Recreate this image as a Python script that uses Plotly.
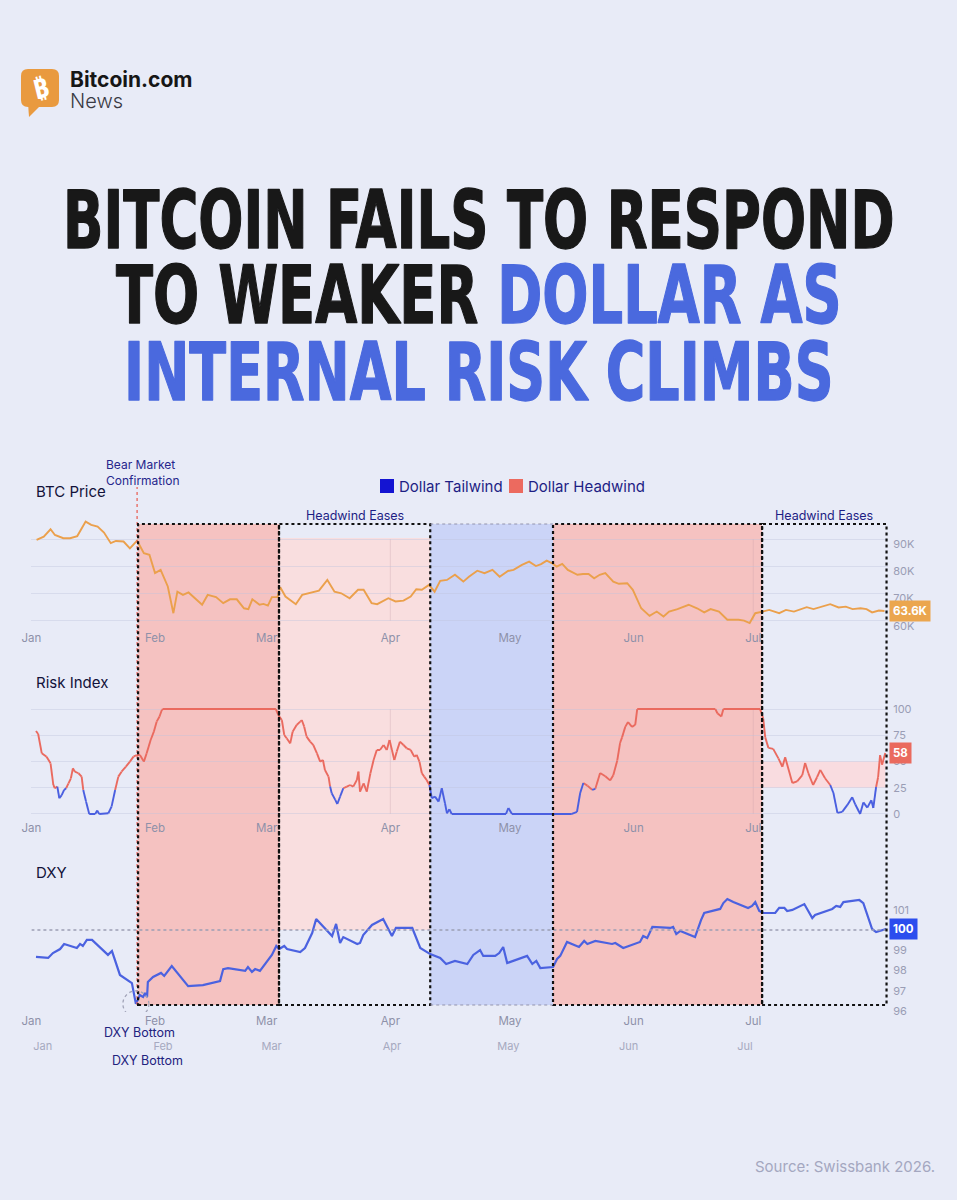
import json

import pandas as pd
import plotly.graph_objects as go

W, H = 957, 1200
BG = "#E8EBF7"
NAVY = "#1E1E84"
FONT = "Inter, Noto Sans, sans-serif"

MONTHS = ["2026-01-01", "2026-02-01", "2026-03-01", "2026-04-01",
          "2026-05-01", "2026-06-01", "2026-07-01"]
MONTH_LABELS = ["Jan", "Feb", "Mar", "Apr", "May", "Jun", "Jul"]

# days after 2026-01-01
BTC_DAY = [1.3, 3.1, 4.8, 5.9, 8.0, 9.7, 11.5, 13.6, 15.0, 16.6, 18.2, 19.9, 21.2, 23.1, 24.7, 26.5, 28.2, 29.6,
           31.0, 32.4, 34.2, 35.6, 36.6, 38.0, 39.4, 41.4, 42.8, 44.2, 46.3, 48.1, 49.8, 51.5, 53.3, 54.4, 55.4, 57.2, 58.2,
           59.3, 60.3, 61.7, 62.4, 63.7, 66.3, 67.9, 70.0, 72.1, 74.2, 76.0, 77.7, 79.8, 81.9, 83.3, 85.3, 86.7, 89.5,
           91.3, 93.3, 95.1, 96.5, 97.9, 99.7, 101.1, 102.5, 104.2, 106.2, 108.3, 109.7, 111.8, 113.6, 115.6, 117.4, 119.5,
           120.9, 123.0, 124.8, 126.5, 127.8, 129.2, 130.6, 131.7, 133.1, 134.5, 136.9, 138.3, 139.7, 141.1, 142.5, 143.9,
           145.9, 147.3, 149.4, 150.8,
           152.9, 155.0, 156.8, 158.5, 159.9, 162.0, 164.8, 166.9, 168.7, 170.3, 172.4, 174.5, 177.3, 178.7, 180.1,
           181.5, 183.3, 185.0, 187.5, 189.2, 191.2, 192.6, 194.4, 196.1, 198.2, 200.3, 202.4, 204.2, 205.9, 207.9, 209.4,
           210.8, 212.5, 213.9]
# thousands of USD
BTC_PRICE = [89.7, 90.9, 93.6, 91.5, 90.3, 90.3, 91.1, 96.4, 95.2, 94.6, 92.4, 88.5, 89.3, 89.1, 86.6, 89.4, 84.8, 84.2,
             77.5, 78.7, 72.6, 62.8, 70.7, 69.5, 70.4, 67.9, 65.9, 69.5, 68.7, 66.5, 67.9, 67.9, 64.6, 64.3, 67.9, 65.9, 66.2,
             65.6, 68.7, 68.7, 72.3, 68.9, 66.1, 69.5, 70.4, 71.1, 75.0, 70.7, 70.1, 68.3, 71.4, 71.4, 66.5, 66.1, 68.3,
             67.1, 67.4, 68.9, 71.6, 71.4, 73.2, 70.7, 74.7, 75.0, 76.9, 74.4, 76.2, 78.4, 77.5, 78.7, 76.2, 78.3,
             78.7, 80.5, 81.7, 80.1, 80.8, 82.1, 81.1, 79.9, 80.9, 78.7, 76.9, 77.2, 77.2, 75.6, 76.9, 77.5,
             74.4, 73.6, 73.8, 71.4,
             64.6, 61.8, 63.4, 61.6, 63.4, 64.3, 65.9, 64.6, 63.1, 64.3, 63.4, 60.4, 60.4, 60.1, 59.2,
             62.8, 63.4, 64.0, 62.8, 64.0, 63.4, 64.0, 65.0, 64.3, 65.2, 66.1, 64.9, 65.2, 64.3, 64.6, 64.3,
             63.1, 63.8, 63.6]

RISK_DAY = [1.15, 1.7, 2.6, 3.8, 4.8, 5.5, 5.9, 6.5, 7.0, 7.6,
            8.2, 8.7, 9.3, 9.9, 10.4, 10.9, 11.8, 12.6, 13.0, 13.7,
            14.5, 16.0, 16.5, 17.0, 19.3, 20.1, 21.0, 21.8, 22.6, 23.7,
            24.7, 25.6, 26.4, 27.2, 28.2, 28.9, 29.9, 30.7, 31.4, 32.1,
            32.7, 33.0, 61.3, 61.9, 62.8, 63.4, 64.0, 64.9, 65.5, 66.5,
            67.4, 67.8, 68.4, 69.0, 69.9, 70.7, 71.6, 72.4, 73.1, 73.6,
            74.5, 74.9, 75.3, 76.2, 76.7, 77.4, 78.2, 79.1, 79.9, 80.7,
            81.6, 82.0, 82.4, 83.3, 84.1, 85.0, 85.8, 86.6, 87.4, 88.3,
            89.1, 89.8, 90.4, 91.0, 91.6, 92.4, 93.3, 94.1, 95.1, 96.0,
            96.6, 97.3, 97.9, 98.5, 99.1, 99.8, 100.4, 101.2, 102.1, 102.9,
            103.7, 104.2, 104.8, 105.4, 119.0, 119.6, 120.5, 135.5, 136.8, 137.6,
            138.4, 139.4, 140.6, 141.4, 142.6, 143.9, 145.1, 145.9, 146.9, 147.6,
            148.1, 148.9, 149.6, 150.6, 151.4, 151.9, 171.5, 172.0, 173.0, 173.5,
            182.7, 183.5, 184.0, 184.8, 186.0, 187.3, 188.3, 189.0, 190.8, 192.0,
            193.3, 194.0, 194.8, 196.0, 197.0, 197.8, 199.0, 200.3, 201.1, 202.1,
            203.3, 204.6, 205.8, 206.6, 207.8, 208.6, 209.6, 210.6, 211.1, 211.8,
            212.3, 212.8, 213.3, 214.1]
RISK_INDEX = [79.1, 76.2, 57.8, 54.6, 48.3, 27.6, 24.5, 26.1, 15.0, 18.0,
              22.9, 24.5, 29.2, 34.0, 43.5, 40.3, 38.8, 35.6, 22.9, 11.8,
              0, 0, 3.2, 0, 0.7, 7.0, 22.9, 35.6, 40.3, 45.1,
              49.9, 54.6, 56.2, 56.2, 49.9, 57.8, 70.5, 78.4, 88.0, 92.7,
              99.1, 100, 100, 94.3, 89.5, 75.3, 72.1, 67.3, 78.4, 84.8,
              88.0, 89.5, 83.2, 73.7, 68.9, 65.7, 57.8, 49.9, 51.4, 41.9,
              35.6, 26.1, 19.7, 13.4, 9.5, 16.5, 24.5, 26.1, 27.6, 26.1,
              32.4, 40.3, 21.3, 29.2, 21.3, 38.8, 51.4, 61.0, 61.0, 65.7,
              61.0, 70.5, 61.0, 51.4, 59.4, 68.9, 65.7, 62.6, 61.0, 54.6,
              56.2, 49.9, 38.8, 35.6, 32.4, 27.6, 15.0, 16.5, 11.8, 24.5,
              10.2, 0.6, 4.5, 0, 0, 5.7, 0, 0, 2.0, 20.0,
              29.5, 27.0, 23.0, 24.0, 39.0, 36.0, 32.0, 37.0, 51.0, 67.6,
              73.0, 83.0, 87.6, 83.0, 85.0, 100, 100, 96.0, 93.0, 100,
              100, 91.0, 73.0, 63.0, 62.0, 53.0, 45.0, 54.0, 29.5, 31.0,
              37.0, 48.6, 39.0, 27.6, 35.0, 42.0, 34.0, 27.6, 20.0, 1.0,
              2.0, 8.6, 16.0, 9.0, 0, 11.0, 6.0, 13.0, 5.7, 25.7,
              35.0, 56.0, 47.0, 58.0]

DXY_DAY = [1.15, 4.2, 5.4, 7.2, 8.2, 11.4, 12.2, 12.9, 13.9, 15.2,
           19.2, 20.2, 22.2, 25.2, 26.2, 27.2, 28.0, 28.5, 29.0, 29.2,
           30.5, 32.5, 33.3, 35.2, 39.3, 43.0, 47.3, 48.1, 49.3, 53.6,
           54.3, 55.3, 56.1, 57.3, 60.3, 61.4, 62.1, 63.4, 64.1, 67.4,
           68.6, 70.4, 71.4, 75.4, 76.4, 77.4, 78.2, 81.7, 82.4, 83.2,
           85.4, 88.2, 90.4, 91.4, 95.5, 97.5, 100.0, 102.5, 104.0, 106.2,
           109.3, 110.8, 112.5, 113.3, 116.3, 117.3, 118.3, 119.3, 124.3, 125.6,
           126.6, 127.6, 130.8, 131.8, 132.6, 134.3, 137.3, 138.6, 139.4, 141.4,
           145.6, 146.4, 148.4, 152.6, 153.4, 154.4, 155.7, 160.2, 160.9, 161.7,
           162.7, 166.4, 167.9, 168.7, 172.7, 173.5, 174.5, 176.0, 179.7, 180.7,
           181.5, 182.5, 183.5, 186.5, 187.5, 188.8, 189.5, 190.8, 193.8, 195.8,
           196.5, 200.8, 201.8, 202.8, 203.6, 207.6, 208.6, 209.6, 210.8, 211.8,
           213.6, 214.3]
DXY_VALUE = [98.67, 98.62, 98.86, 99.06, 99.31, 99.11, 99.31, 99.21, 99.51, 99.51,
             98.77, 98.96, 97.78, 97.38, 96.35, 96.79, 96.69, 96.89, 96.69, 97.43,
             97.68, 97.88, 97.73, 98.22, 97.23, 97.28, 97.48, 98.07, 98.12, 97.98,
             98.17, 97.93, 98.07, 97.98, 98.77, 99.21, 99.06, 99.21, 99.06, 98.91,
             99.11, 99.85, 100.54, 99.70, 100.30, 99.36, 99.65, 99.31, 99.36, 99.75,
             100.25, 100.54, 99.70, 100.10, 100.10, 99.11, 98.81, 98.62, 98.32, 98.47,
             98.32, 98.77, 99.01, 98.72, 98.72, 98.86, 99.16, 98.37, 98.72, 98.32,
             98.47, 98.12, 98.17, 98.57, 98.72, 99.41, 99.16, 99.46, 99.31, 99.46,
             99.31, 99.36, 99.11, 99.41, 99.70, 99.60, 100.15, 100.10, 100.15, 99.80,
             99.95, 99.65, 100.49, 100.84, 101.04, 101.33, 101.53, 101.38, 101.09, 101.19,
             101.38, 100.94, 100.84, 100.84, 101.09, 101.09, 100.94, 100.99, 101.28, 100.59,
             100.74, 101.04, 101.19, 101.14, 101.38, 101.48, 101.33, 100.79, 100.05, 99.90,
             100.00, 100.05]

# regime boundaries: headwind, eases, tailwind, headwind, eases
REGION_EDGES = ["2026-01-27 18:00", "2026-03-04 02:00", "2026-04-11 00:00",
                "2026-05-11 19:00", "2026-07-03 05:00", "2026-08-03 10:00"]
BEAR_CONFIRMATION = "2026-01-27 12:00"
X_RANGE = ["2026-01-01", "2026-08-03 20:00"]
RISK_BAND = [25, 50]
LEGEND = [("Dollar Tailwind", "#1414D2"), ("Dollar Headwind", "#EC6A5F")]

START = pd.Timestamp("2026-01-01")


def to_dates(days):
    return [START + pd.Timedelta(days=d) for d in days]


def py(px):
    return 1 - px / H


def px_(px):
    return px / W


btc_dates = to_dates(BTC_DAY)
risk_dates = to_dates(RISK_DAY)
dxy_dates = to_dates(DXY_DAY)

RED_LINE = "#EA6A5F"
BLUE_LINE = "#4A5FE0"
RED_FILL = "#F5C2C1"
PINK_FILL = "#F9DEDF"
BLUE_FILL = "#CBD4F7"

# panel geometry
X_DOM = [px_(31.4), px_(888.2)]
Y1_DOM, Y1_RNG = [py(629), py(520)], [57.0, 97.0]
Y2_DOM, Y2_RNG = [py(819), py(704)], [-4.8, 104.8]
Y3_DOM, Y3_RNG = [py(1012), py(890)], [95.95, 101.975]


def y3_paper(v):
    return Y3_DOM[0] + (v - Y3_RNG[0]) / (Y3_RNG[1] - Y3_RNG[0]) * (Y3_DOM[1] - Y3_DOM[0])


fig = go.Figure()

fig.add_trace(go.Scatter(
    x=btc_dates, y=BTC_PRICE, mode="lines",
    line=dict(color="#EBA04C", width=1.9),
    xaxis="x", yaxis="y", showlegend=False, hoverinfo="skip",
))

# risk index coloured by level
red_x, red_y, blue_x, blue_y = [], [], [], []
for i in range(len(risk_dates) - 1):
    a, b = RISK_INDEX[i], RISK_INDEX[i + 1]
    if (a + b) / 2 >= 25:
        red_x += [risk_dates[i], risk_dates[i + 1], None]
        red_y += [a, b, None]
    else:
        blue_x += [risk_dates[i], risk_dates[i + 1], None]
        blue_y += [a, b, None]

for xs, ys, c in [(red_x, red_y, RED_LINE), (blue_x, blue_y, BLUE_LINE)]:
    fig.add_trace(go.Scatter(
        x=xs, y=ys, mode="lines", line=dict(color=c, width=1.9),
        xaxis="x2", yaxis="y2", showlegend=False, hoverinfo="skip",
    ))

fig.add_trace(go.Scatter(
    x=dxy_dates, y=DXY_VALUE, mode="lines",
    line=dict(color="#4B62E0", width=2.2),
    xaxis="x3", yaxis="y3", showlegend=False, hoverinfo="skip",
))

# ghost copy of the month labels under the DXY panel
fig.add_trace(go.Scatter(
    x=[START], y=[0], mode="markers", marker=dict(opacity=0),
    xaxis="x4", yaxis="y4", showlegend=False, hoverinfo="skip",
))

shapes = []
e = REGION_EDGES
fills = [
    (e[0], e[1], RED_FILL, py(524), py(1005)),
    (e[1], e[2], PINK_FILL, py(538), y3_paper(100)),
    (e[2], e[3], BLUE_FILL, py(524), py(1005)),
    (e[3], e[4], RED_FILL, py(524), py(1005)),
]
for x0, x1, c, y1, y0 in fills:
    shapes.append(dict(type="rect", xref="x", yref="paper", x0=x0, x1=x1, y0=y0, y1=y1,
                       fillcolor=c, line=dict(width=0), layer="below"))

# late-cycle band on risk index
shapes.append(dict(type="rect", xref="x2", yref="y2", x0=e[4], x1=risk_dates[-1],
                   y0=RISK_BAND[0], y1=RISK_BAND[1], fillcolor="#F9DCE0",
                   line=dict(width=0), layer="below"))

# quarter markers
for q in ["2026-04-01", "2026-07-01"]:
    shapes.append(dict(type="line", xref="x", yref="y", x0=q, x1=q, y0=60, y1=90,
                       line=dict(color="rgba(200,160,170,0.3)", width=1), layer="below"))
    shapes.append(dict(type="line", xref="x2", yref="y2", x0=q, x1=q, y0=0, y1=100,
                       line=dict(color="rgba(200,160,170,0.3)", width=1), layer="below"))

# DXY 100 reference
shapes.append(dict(type="line", xref="x3", yref="y3", x0=X_RANGE[0], x1=dxy_dates[-1], y0=100, y1=100,
                   line=dict(color="#9C9EB4", width=1.5, dash="dot")))

# bear market confirmation
shapes.append(dict(type="line", xref="x", yref="paper", x0=BEAR_CONFIRMATION, x1=BEAR_CONFIRMATION,
                   y0=py(1005), y1=py(487), line=dict(color="#E8645A", width=1.3, dash="dot")))

# dotted region boxes
for i in [0, 1, 3, 4]:
    shapes.append(dict(type="rect", xref="x", yref="paper", x0=e[i], x1=e[i + 1],
                       y0=py(1005), y1=py(524), line=dict(color="#111111", width=2.2, dash="dot")))
for yy in [524, 1005]:
    shapes.append(dict(type="line", xref="x", yref="paper", x0=e[2], x1=e[3], y0=py(yy), y1=py(yy),
                       line=dict(color="rgba(140,140,165,0.6)", width=1.6, dash="dot")))

# DXY bottom marker
i_min = DXY_VALUE.index(min(DXY_VALUE))
shapes.append(dict(type="circle", xref="x3", yref="y3", xsizemode="pixel", ysizemode="pixel",
                   xanchor=dxy_dates[i_min], yanchor=DXY_VALUE[i_min],
                   x0=-13, x1=13, y0=-13, y1=13,
                   line=dict(color="#A2A4B8", width=1.3, dash="dot")))


# logo
def rounded_rect(x0, y0, x1, y1, r):
    def p(x, y):
        return f"{px_(x)},{py(y)}"
    return (f"M {p(x0 + r, y0)} L {p(x1 - r, y0)} Q {p(x1, y0)} {p(x1, y0 + r)} "
            f"L {p(x1, y1 - r)} Q {p(x1, y1)} {p(x1 - r, y1)} L {p(x0 + r, y1)} "
            f"Q {p(x0, y1)} {p(x0, y1 - r)} L {p(x0, y0 + r)} Q {p(x0, y0)} {p(x0 + r, y0)} Z")


shapes.append(dict(type="path", xref="paper", yref="paper", path=rounded_rect(21, 69, 59, 107, 7),
                   fillcolor="#E99A3F", line=dict(width=0)))
shapes.append(dict(type="path", xref="paper", yref="paper",
                   path=f"M {px_(28)},{py(103)} L {px_(29)},{py(117)} L {px_(40)},{py(106)} Z",
                   fillcolor="#E99A3F", line=dict(width=0)))

# legend swatches
for (name, c), x0 in zip(LEGEND, [380, 509]):
    shapes.append(dict(type="rect", xref="paper", yref="paper", x0=px_(x0), x1=px_(x0 + 14),
                       y0=py(493), y1=py(479), fillcolor=c, line=dict(width=0)))

annotations = []


def note(text, x, y, size, color=NAVY, xanchor="left", weight=None, family=FONT, **kw):
    f = dict(family=family, size=size, color=color)
    if weight:
        f["weight"] = weight
    annotations.append(dict(text=text, x=x, y=y, xref=kw.pop("xref", "paper"), yref=kw.pop("yref", "paper"),
                            xanchor=xanchor, yanchor=kw.pop("yanchor", "middle"), showarrow=False,
                            font=f, **kw))


TITLE_FONT = "DejaVu Sans Condensed, DejaVu Sans, sans-serif"
TITLE_BLUE = "#4A69DE"
CAP_HEIGHT = 59
title_lines = [
    ("BITCOIN FAILS TO RESPOND", 219.5, 59.0, "#181818"),
    (f"TO WEAKER <span style='color:{TITLE_BLUE}'>DOLLAR AS</span>", 295.5, 60.4, "#181818"),
    ("INTERNAL RISK CLIMBS", 371.5, 60.0, TITLE_BLUE),
]
stretch = {}
for text, yc, size, color in title_lines:
    note(text, 0.5, py(yc), size, color, "center", 700, TITLE_FONT)
    words = text.split(" ")
    stretch[words[0] + " " + words[1]] = CAP_HEIGHT / (0.729 * size)

note("₿", px_(40), py(88), 27, "white", "center", 700, "DejaVu Sans, Noto Sans", textangle=-14)
note("Bitcoin.com", px_(68), py(80), 21, "#161616", "left", 700)
note("News", px_(68), py(101), 20, "#3A3A44", "left", 300)

note("BTC Price", px_(34), py(491), 15, "#12123A")
note("Risk Index", px_(34), py(682), 15, "#12123A")
note("DXY", px_(34), py(872), 15, "#12123A")

for (name, c), x0 in zip(LEGEND, [397, 526]):
    note(name, px_(x0), py(486), 15, NAVY)

note("Bear Market<br>Confirmation", px_(104), py(472), 12, "#26268C", "left", align="left")
for i in [1, 4]:
    mid = pd.Timestamp(e[i]) + (pd.Timestamp(e[i + 1]) - pd.Timestamp(e[i])) / 2
    note("Headwind Eases", mid, py(516), 12.5, "#1E1E84", "center", xref="x")

note("DXY Bottom", dxy_dates[i_min], py(1032), 12.5, "#22227E", "center", xref="x3", xshift=4)
note("DXY Bottom", dxy_dates[i_min], py(1060), 12.5, "#22227E", "center", xref="x3", xshift=12)

# last-value badges
for text, yref, xref, val, c in [
    (f"{BTC_PRICE[-1]:.1f}K", "y", "x domain", BTC_PRICE[-1], "#EBA64E"),
    (f"{RISK_INDEX[-1]:.0f}", "y2", "x2 domain", RISK_INDEX[-1], "#EA6A5E"),
    (f"{DXY_VALUE[-1]:.0f}", "y3", "x3 domain", DXY_VALUE[-1], "#2B4DEE"),
]:
    annotations.append(dict(text=f"<b>{text}</b>", x=1, y=val, xref=xref, yref=yref,
                            xanchor="left", yanchor="middle", xshift=1, showarrow=False,
                            bgcolor=c, borderpad=3, font=dict(family=FONT, size=11.5, color="white")))

note("Source: Swissbank 2026.", px_(937), py(1166), 15, "#A4A7C0", "right")

xcommon = dict(type="date", range=X_RANGE, domain=X_DOM, tickvals=MONTHS, ticktext=MONTH_LABELS,
               showgrid=False, zeroline=False, showline=False, ticks="", automargin=False,
               tickfont=dict(family=FONT, size=11.5, color="#8E91A9"))
ycommon = dict(side="right", zeroline=False, showline=False, ticks="", ticklabelstandoff=4,
               automargin=False, tickfont=dict(family=FONT, size=11, color="#9A9DB5"),
               gridcolor="rgba(190,195,220,0.4)", gridwidth=1)

btc_ticks = [60, 70, 80, 90]

fig.update_layout(
    width=W, height=H, autosize=False,
    margin=dict(l=0, r=0, t=0, b=0, pad=0, autoexpand=False),
    paper_bgcolor=BG, plot_bgcolor="rgba(0,0,0,0)",
    font=dict(family=FONT),
    showlegend=False,
    xaxis=dict(anchor="y", **xcommon),
    xaxis2=dict(anchor="y2", matches="x", **xcommon),
    xaxis3=dict(anchor="y3", matches="x", **xcommon),
    xaxis4=dict(type="date", range=X_RANGE, domain=[px_(42.7), px_(876.3)], anchor="y4",
                tickvals=MONTHS, ticktext=MONTH_LABELS, showgrid=False, zeroline=False, ticks="",
                automargin=False, tickfont=dict(family=FONT, size=11, color="#A6A9C0")),
    yaxis=dict(anchor="x", domain=Y1_DOM, range=Y1_RNG, tickvals=btc_ticks,
               ticktext=[f"{v}K" for v in btc_ticks], showgrid=True, ticklabelshift=5, **ycommon),
    yaxis2=dict(anchor="x2", domain=Y2_DOM, range=Y2_RNG, tickvals=[0, 25, 50, 75, 100],
                showgrid=True, **ycommon),
    yaxis3=dict(anchor="x3", domain=Y3_DOM, range=Y3_RNG, tickvals=[96, 97, 98, 99, 100, 101],
                showgrid=False, **ycommon),
    yaxis4=dict(anchor="x4", domain=[py(1038), py(1034)], visible=False),
    shapes=shapes,
    annotations=annotations,
)

# page without body margin; headline glyphs stretched tall and thickened like the display face
POST = """
document.body.style.margin = '0';
document.body.style.overflow = 'hidden';
var stretch = STRETCH;
var gd = document.getElementById('{plot_id}');
gd.querySelectorAll('text.annotation-text').forEach(function (t) {
  var words = t.textContent.split(' ');
  var k = stretch[words[0] + ' ' + words[1]];
  if (k) {
    t.removeAttribute('transform');
    var b = t.getBBox();
    var cy = b.y + b.height / 2;
    t.setAttribute('transform', 'translate(0,' + (cy * (1 - k)) + ') scale(1,' + k + ')');
    [t].concat(Array.prototype.slice.call(t.querySelectorAll('tspan'))).forEach(function (el) {
      var f = el.style.fill || window.getComputedStyle(el).fill;
      if (f) {
        el.style.stroke = f;
        el.style.strokeWidth = '1px';
        el.style.strokeLinejoin = 'round';
      }
    });
  }
});
""".replace("STRETCH", json.dumps(stretch))

fig.write_html("out.html", post_script=POST, config={"displayModeBar": False})
